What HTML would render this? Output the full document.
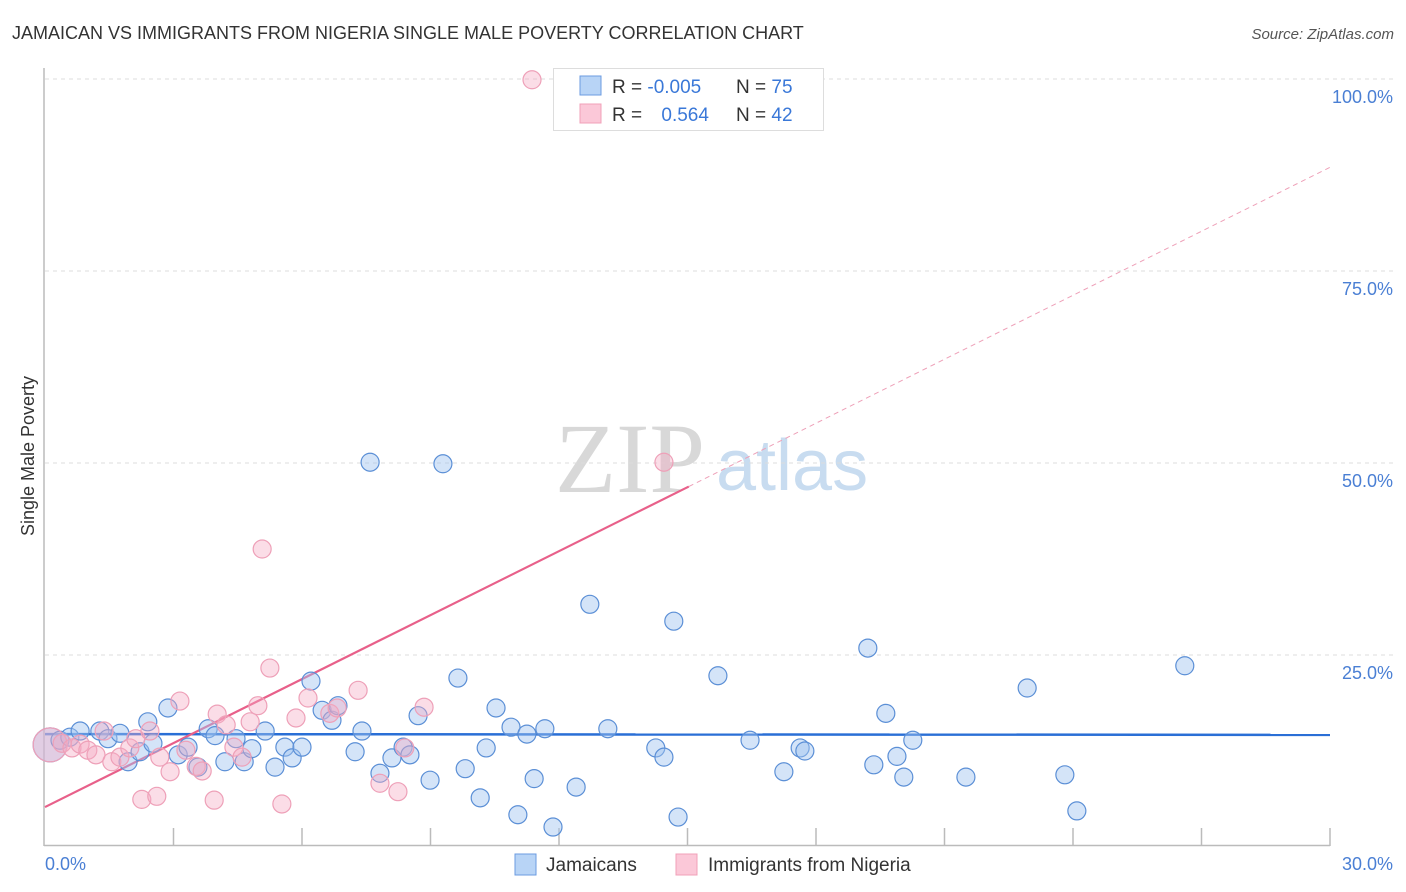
<!DOCTYPE html>
<html><head><meta charset="utf-8"><style>
body{margin:0;background:#fff;font-family:"Liberation Sans",sans-serif;}
#wrap{position:relative;width:1406px;height:892px;overflow:hidden;}
</style></head><body>
<div id="wrap">
<svg id="svg" width="1406" height="892" xmlns="http://www.w3.org/2000/svg">
<text x="12" y="39" font-size="18" fill="#333">JAMAICAN VS IMMIGRANTS FROM NIGERIA SINGLE MALE POVERTY CORRELATION CHART</text>
<text x="1394" y="39" font-size="15" fill="#555" font-style="italic" text-anchor="end">Source: ZipAtlas.com</text>
<text x="555" y="492" font-size="100" fill="#d8d8d8" font-family="Liberation Serif,serif">ZIP</text>
<text x="716" y="490" font-size="72" fill="#c8dcf0">atlas</text>
<g id="grid"></g>
<line x1="44" y1="68" x2="44" y2="846" stroke="#bbb" stroke-width="1.5"/>
<line x1="44" y1="845.5" x2="1330" y2="845.5" stroke="#bbb" stroke-width="1.5"/>
<g id="ticks"></g>
<text transform="translate(34,456) rotate(-90)" font-size="18" fill="#333" text-anchor="middle">Single Male Poverty</text>
<text x="45" y="870" font-size="18" fill="#4a7fd4">0.0%</text>
<text x="1393" y="870" font-size="18" fill="#4a7fd4" text-anchor="end">30.0%</text>
<g id="lines"></g>
<g id="pts"></g>
<g>
<rect x="553.5" y="68.5" width="270" height="62" fill="#fff" stroke="#ddd"/>
<rect x="580" y="76" width="21" height="19" fill="#b8d4f6" stroke="#6b9be0"/>
<rect x="580" y="104" width="21" height="19" fill="#fbc8d8" stroke="#f0a0b8"/>
<text x="612" y="93" font-size="19" fill="#333">R = <tspan fill="#3a78d8">-0.005</tspan></text>
<text x="736" y="93" font-size="19" fill="#333">N = <tspan fill="#3a78d8">75</tspan></text>
<text x="612" y="121" font-size="19" fill="#333">R = <tspan fill="#3a78d8" dx="14">0.564</tspan></text>
<text x="736" y="121" font-size="19" fill="#333">N = <tspan fill="#3a78d8">42</tspan></text>
</g>
<g>
<rect x="515" y="854" width="21" height="21" fill="#b8d4f6" stroke="#6b9be0"/>
<text x="546" y="871" font-size="19" fill="#333">Jamaicans</text>
<rect x="676" y="854" width="21" height="21" fill="#fbc8d8" stroke="#f0a0b8"/>
<text x="708" y="871" font-size="19" fill="#333">Immigrants from Nigeria</text>
</g>
</svg>
</div>
<script>
const yTicks=[25,50,75,100];
const yTickLabels=["25.0%","50.0%","75.0%","100.0%"];
const xTicks=[3,6,9,12,15,18,21,24,27,30];
const jamX=[0.12,0.35,0.58,0.82,1.28,1.47,1.75,1.94,2.22,2.40,2.52,2.87,3.11,3.34,3.57,3.81,3.97,4.20,4.46,4.65,4.83,5.14,5.37,5.60,5.77,6.00,6.21,6.47,6.70,6.84,7.24,7.40,7.59,7.82,8.10,8.36,8.52,8.71,8.99,9.29,9.64,9.81,10.16,10.30,10.53,10.88,11.04,11.25,11.42,11.67,11.86,12.40,12.72,13.14,14.26,14.45,14.68,14.78,15.71,16.46,17.25,17.63,17.74,19.21,19.35,19.63,19.89,20.05,20.26,21.50,22.93,23.81,24.09,26.61];
const jamY=[13.3,13.9,14.3,15.1,15.1,14.1,14.8,11.1,12.4,16.3,13.5,18.1,12.0,13.0,10.4,15.4,14.5,11.1,14.1,11.1,12.8,15.1,10.4,13.0,11.6,13.0,21.6,17.8,16.5,18.4,12.4,15.1,50.1,9.6,11.6,13.0,12.0,17.1,8.7,49.9,22.0,10.2,6.4,12.9,18.1,15.6,4.2,14.7,8.9,15.4,2.6,7.8,31.6,15.4,12.9,11.7,29.4,3.9,22.3,13.9,9.8,12.9,12.5,25.9,10.7,17.4,11.8,9.1,13.9,9.1,20.7,9.4,4.7,23.6];
const nigX=[0.12,0.40,0.63,0.82,1.00,1.19,1.38,1.56,1.75,1.98,2.12,2.26,2.45,2.61,2.68,2.92,3.15,3.29,3.53,3.67,3.95,4.02,4.23,4.41,4.60,4.79,4.97,5.07,5.25,5.53,5.86,6.14,6.65,6.82,7.31,7.82,8.24,8.40,8.85,14.45,11.37];
const nigY=[13.3,13.5,12.9,13.4,12.6,12.0,15.1,11.1,11.7,12.9,14.1,6.2,15.1,6.6,11.7,9.8,19.0,12.6,10.5,9.9,6.1,17.3,15.9,13.0,11.7,16.3,18.4,38.8,23.3,5.6,16.8,19.4,17.4,18.1,20.4,8.3,7.2,12.9,18.2,50.1,99.9];
const jamTrend=[14.7,14.6];
const nigTrend=[5.2,88.5];
const nigSolidEnd=15.03;
const X=v=>45+v/30*1285, Y=v=>847-v/100*768;
const NS="http://www.w3.org/2000/svg";
function mk(t,a,p){const e=document.createElementNS(NS,t);for(const k in a)e.setAttribute(k,a[k]);document.getElementById(p).appendChild(e);return e;}
yTicks.forEach((t,i)=>{
 const l=mk('line',{x1:45,x2:1395,y1:Y(t),y2:Y(t),stroke:'#ddd','stroke-dasharray':'4,4'},'grid');
 
 
 const tx=mk('text',{x:1393,y:Y(t)+24,'font-size':18,fill:'#4a7fd4','text-anchor':'end'},'grid');
 tx.textContent=yTickLabels[i];
 
 
});
xTicks.forEach(t=>{
 const l=mk('line',{x1:X(t),x2:X(t),y1:828,y2:846,stroke:'#bbb','stroke-width':1.5},'ticks');
 
 
});
function pts(xs,ys,fill,stroke,name){
 xs.forEach((x,i)=>{
  const c=mk('circle',{cx:X(x),cy:Y(ys[i]),r:(i==0?17:9),fill:fill,stroke:stroke,'stroke-width':1.2},'pts');
  
  
 });
}
pts(jamX,jamY,'rgba(160,196,240,0.45)','#5b8fd6','jamaican-point');
pts(nigX,nigY,'rgba(245,170,195,0.4)','#eea0b8','nigeria-point');
const nAt=x=>nigTrend[0]+(nigTrend[1]-nigTrend[0])*x/30;
let l1=mk('line',{x1:X(0),y1:Y(jamTrend[0]),x2:X(30),y2:Y(jamTrend[1]),stroke:'#2a6fd6','stroke-width':2.5},'lines');


let l2=mk('line',{x1:X(0),y1:Y(nAt(0)),x2:X(nigSolidEnd),y2:Y(nAt(nigSolidEnd)),stroke:'#e8608a','stroke-width':2.2},'lines');


let l3=mk('line',{x1:X(nigSolidEnd),y1:Y(nAt(nigSolidEnd)),x2:X(30),y2:Y(nAt(30)),stroke:'#eea0b8','stroke-width':1,'stroke-dasharray':'5,4'},'lines');


</script>
</body></html>
